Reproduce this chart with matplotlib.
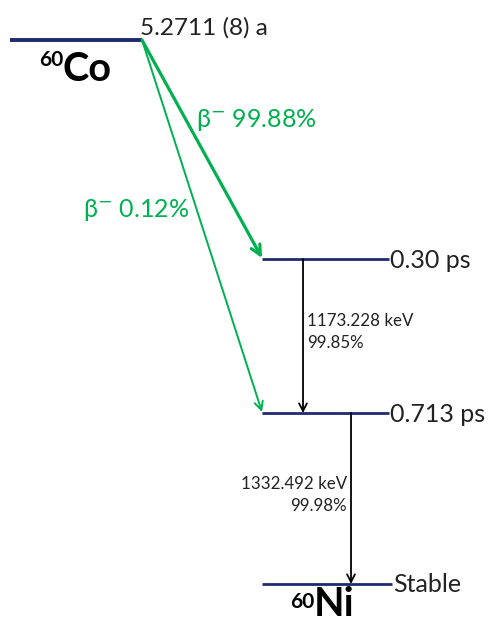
import matplotlib
matplotlib.use("Agg")
import matplotlib.pyplot as plt

# ---- data ----
parent = "Co"
parent_mass = "60"
parent_halflife = "5.2711 (8) a"
daughter = "Ni"
daughter_mass = "60"
level_labels = ["0.30 ps", "0.713 ps", "Stable"]
beta_labels = [r"β$^{-}$ 99.88%", r"β$^{-}$ 0.12%"]
gamma_energies = ["1173.228 keV", "1332.492 keV"]
gamma_intensities = ["99.85%", "99.98%"]

NAVY = "#1f2a6e"
GREEN = "#00b050"
FONT = ["Lato", "DejaVu Sans"]
TXT = "#222222"

fig = plt.figure(figsize=(4.93, 6.23), dpi=100)
ax = fig.add_axes([0, 0, 1, 1])
ax.set_xlim(0, 493)
ax.set_ylim(623, 0)
ax.axis("off")

# layout (pixel coordinates)
co_y = 40
lev_y = [259, 413, 584]
lev_x0 = 262
lev_x1 = [389, 389, 392]

# parent level
ax.plot([10, 142], [co_y, co_y], color=NAVY, lw=2.8, solid_capstyle="butt")
ax.text(140, 35, parent_halflife, fontsize=17.5, family=FONT, ha="left", va="baseline", color=TXT)
ax.text(39, 66, parent_mass, fontsize=15, family=FONT, weight="bold", ha="left", va="baseline")
ax.text(62, 81, parent, fontsize=28.5, family=FONT, weight="bold", ha="left", va="baseline")

# daughter levels
for y, x1, lab in zip(lev_y, lev_x1, level_labels):
    ax.plot([lev_x0, x1], [y, y], color=NAVY, lw=2.0, solid_capstyle="butt")
    ax.text(x1 + 1, y + 1, lab, fontsize=18, family=FONT,
            ha="left", va="center", color=TXT)

ax.text(290, 608, daughter_mass, fontsize=15, family=FONT, weight="bold", ha="left", va="baseline")
ax.text(314, 623, daughter, fontsize=28.5, family=FONT, weight="bold", ha="left", va="bottom")

# beta arrows
ax.annotate("", xy=(262, lev_y[0] - 1), xytext=(142, co_y),
            arrowprops=dict(arrowstyle="->,head_length=0.7,head_width=0.35", color=GREEN, lw=2.3,
                            shrinkA=0, shrinkB=0))
ax.annotate("", xy=(262, lev_y[1] - 1), xytext=(142, co_y),
            arrowprops=dict(arrowstyle="->,head_length=0.6,head_width=0.3", color=GREEN, lw=1.4,
                            shrinkA=0, shrinkB=0))
ax.text(196, 120, beta_labels[0], fontsize=18, family=FONT, color=GREEN, ha="left", va="center")
ax.text(83, 210, beta_labels[1], fontsize=18, family=FONT, color=GREEN, ha="left", va="center")

# gamma arrows
gx = [303, 351]
for i in range(2):
    ax.annotate("", xy=(gx[i], lev_y[i + 1]), xytext=(gx[i], lev_y[i]),
                arrowprops=dict(arrowstyle="->,head_length=0.55,head_width=0.28", color="black", lw=1.3,
                                shrinkA=0, shrinkB=0))

ax.text(307, 321, gamma_energies[0], fontsize=12.2, family=FONT, ha="left", va="center", color=TXT)
ax.text(307, 343, gamma_intensities[0], fontsize=12.2, family=FONT, ha="left", va="center", color=TXT)
ax.text(347, 484, gamma_energies[1], fontsize=12.2, family=FONT, ha="right", va="center", color=TXT)
ax.text(347, 506, gamma_intensities[1], fontsize=12.2, family=FONT, ha="right", va="center", color=TXT)

fig.savefig("out.png", dpi=100)
